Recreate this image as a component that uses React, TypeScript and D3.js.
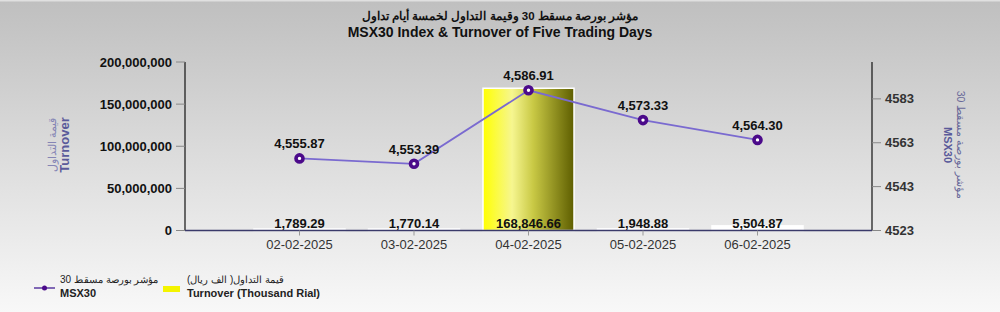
import React from "react";
import * as d3 from "d3";

const categories = ["02-02-2025", "03-02-2025", "04-02-2025", "05-02-2025", "06-02-2025"];
const turnoverThousand = [1789.29, 1770.14, 168846.66, 1948.88, 5504.87];
const indexValues = [4555.87, 4553.39, 4586.91, 4573.33, 4564.3];
const leftTicks = [0, 50000000, 100000000, 150000000, 200000000];
const rightTicks = [4523, 4543, 4563, 4583];

const W = 1000;
const H = 312;
const L = 185;
const R = 872;
const TOP = 62;
const BASE = 230.5;

export default function App() {
  const x = d3.scalePoint<number>().domain(d3.range(7)).range([L, R]);
  const yL = d3.scaleLinear().domain([0, 200000000]).range([BASE, TOP]);
  const yR = d3.scaleLinear().domain([4523, 4599.8]).range([BASE, TOP]);
  const bw = 91;
  const fmt2 = d3.format(",.2f");
  const fmt0 = d3.format(",");
  const line = d3
    .line<number>()
    .x((_, i) => x(i + 1)!)
    .y((d) => yR(d));
  const font = "Arial, 'Liberation Sans', sans-serif";
  return (
    <svg width={W} height={H} style={{ position: "absolute", left: 0, top: 0, display: "block" }} fontFamily={font}>
      <defs>
        <linearGradient id="bg" x1="0" y1="0" x2="0" y2="1">
          <stop offset="0" stopColor="#bfbfbf" />
          <stop offset="0.5" stopColor="#dcdcdc" />
          <stop offset="1" stopColor="#f8f8f8" />
        </linearGradient>
        <linearGradient id="bar" x1="0" y1="0" x2="1" y2="0">
          <stop offset="0" stopColor="#ffff00" />
          <stop offset="0.32" stopColor="#f6f690" />
          <stop offset="0.55" stopColor="#c9c945" />
          <stop offset="1" stopColor="#5e5e00" />
        </linearGradient>
      </defs>
      <rect x={0} y={0} width={W} height={H} fill="url(#bg)" />
      <rect x={0} y={0} width={W} height={1.5} fill="#e0e0e0" />
      {/* Title */}
      <text x={500} y={20} textAnchor="middle" fontSize={11.5} fontWeight="bold" fill="#111">
        مؤشر بورصة مسقط 30 وقيمة التداول لخمسة أيام تداول
      </text>
      <text x={500} y={37} textAnchor="middle" fontSize={14} fontWeight="bold" fill="#111">
        MSX30 Index &amp; Turnover of Five Trading Days
      </text>
      {/* bars */}
      {turnoverThousand.map((v, i) => {
        const cx = x(i + 1)!;
        const yv = yL(v * 1000);
        const h = BASE - yv;
        return (
          <rect
            key={"b" + i}
            x={cx - bw / 2}
            y={yv}
            width={bw}
            height={h}
            fill={h > 8 ? "url(#bar)" : "#ffffff"}
            stroke="#ffffff"
            strokeWidth={1.5}
          />
        );
      })}
      {/* left axis */}
      <line x1={L} y1={TOP} x2={L} y2={BASE} stroke="#111" strokeWidth={1.2} />
      {leftTicks.map((t) => (
        <g key={"l" + t}>
          <line x1={L - 9} x2={L} y1={yL(t)} y2={yL(t)} stroke="#888" />
          <text x={L - 13} y={yL(t)} dy="0.35em" textAnchor="end" fontSize={13} fontWeight="bold" fill="#111">
            {fmt0(t)}
          </text>
        </g>
      ))}
      {/* right axis */}
      <line x1={R} y1={TOP} x2={R} y2={BASE} stroke="#111" strokeWidth={1.2} />
      {rightTicks.map((t) => (
        <g key={"r" + t}>
          <line x1={R} x2={R + 9} y1={yR(t)} y2={yR(t)} stroke="#888" />
          <text x={R + 13} y={yR(t)} dy="0.35em" textAnchor="start" fontSize={13} fontWeight="bold" fill="#333">
            {t}
          </text>
        </g>
      ))}
      {/* baseline */}
      <line x1={L} x2={R} y1={BASE} y2={BASE} stroke="#3a3a6a" strokeWidth={1.5} />
      {categories.map((c, i) => (
        <g key={"c" + i}>
          <line x1={x(i + 1)!} x2={x(i + 1)!} y1={BASE} y2={BASE + 5} stroke="#999" />
          <text x={x(i + 1)!} y={BASE + 18} textAnchor="middle" fontSize={13} fill="#333">
            {c}
          </text>
        </g>
      ))}
      {/* bar labels */}
      {turnoverThousand.map((v, i) => (
        <text key={"bl" + i} x={x(i + 1)!} y={BASE - 3} textAnchor="middle" fontSize={13} fontWeight="bold" fill="#111">
          {fmt2(v)}
        </text>
      ))}
      {/* line */}
      <path d={line(indexValues)!} fill="none" stroke="#7a6ad0" strokeWidth={1.8} />
      {indexValues.map((v, i) => (
        <g key={"p" + i}>
          <circle cx={x(i + 1)!} cy={yR(v)} r={3.5} fill="#ffffff" stroke="#4b0a8a" strokeWidth={3.6} />
          <text x={x(i + 1)!} y={yR(v) - 10} textAnchor="middle" fontSize={13} fontWeight="bold" fill="#111">
            {fmt2(v)}
          </text>
        </g>
      ))}
      {/* axis titles */}
      <g transform="translate(56,145) rotate(-90)">
        <text x={0} y={0} textAnchor="middle" fontSize={11} fill="#8585b5">
          قيمة التداول
        </text>
        <text x={0} y={13} textAnchor="middle" fontSize={13} fontWeight="bold" fill="#5a5a9a">
          Turnover
        </text>
      </g>
      <g transform="translate(957,145) rotate(90)">
        <text x={0} y={0} textAnchor="middle" fontSize={10.5} fill="#6a6a9a">
          مؤشر بورصة مسقط 30
        </text>
        <text x={0} y={13} textAnchor="middle" fontSize={11} fontWeight="bold" fill="#5a5a9a">
          MSX30
        </text>
      </g>
      {/* legend */}
      <line x1={34} x2={55} y1={288} y2={288} stroke="#5a3aa0" strokeWidth={1.5} />
      <circle cx={44.5} cy={288} r={2.5} fill="#4b0a8a" />
      <text x={60} y={283} fontSize={10} fill="#222">
        مؤشر بورصة مسقط 30
      </text>
      <text x={60} y={297} fontSize={11} fontWeight="bold" fill="#222">
        MSX30
      </text>
      <rect x={163} y={286} width={17} height={6} fill="#f4f400" />
      <text x={187} y={283} fontSize={10} fill="#222">
        قيمة التداول( الف ريال)
      </text>
      <text x={187} y={297} fontSize={11} fontWeight="bold" fill="#222">
        Turnover (Thousand Rial)
      </text>
    </svg>
  );
}
